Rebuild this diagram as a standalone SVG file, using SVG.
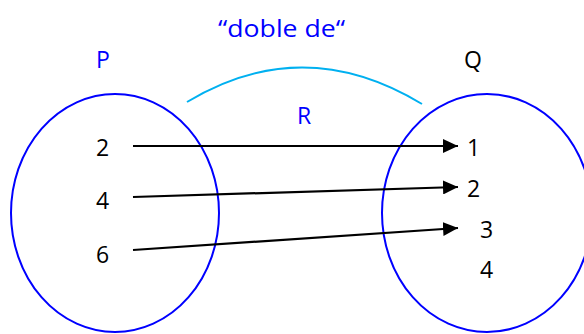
<svg xmlns="http://www.w3.org/2000/svg" width="584" height="334" viewBox="0 0 584 334">
<style>
.set{fill:none;stroke:#0000ff;stroke-width:2}
.num{font-family:"Open Sans","Liberation Sans",sans-serif;font-size:23px;fill:#000}
.lbl{font-family:"Open Sans","Liberation Sans",sans-serif;font-size:23px}
.conn{stroke:#000;stroke-width:2.2;fill:none;marker-end:url(#ah)}
</style>
<defs>
<marker id="ah" markerWidth="16" markerHeight="14" refX="15" refY="7" orient="auto" markerUnits="userSpaceOnUse">
<path d="M0,0 L15,7 L0,14 Z" fill="#000"/>
</marker>
</defs>
<rect width="584" height="334" fill="#fff"/>
<g id="labels">
<text class="lbl" x="218" y="37" fill="#0000ff" textLength="127" lengthAdjust="spacingAndGlyphs">“doble de“</text>
<text class="lbl" x="96" y="68" fill="#0000ff">P</text>
<text class="lbl" x="464" y="68" fill="#000">Q</text>
<text class="lbl" x="297" y="124" fill="#0000ff">R</text>
</g>
<g id="relation-arc">
<path d="M187,102 Q303,32 422,104" fill="none" stroke="#00b0f0" stroke-width="2"/>
</g>
<g id="set-P">
<ellipse class="set" cx="115" cy="213" rx="104" ry="119"/>
<text class="num" x="96" y="156">2</text>
<text class="num" x="96" y="209">4</text>
<text class="num" x="96" y="263">6</text>
</g>
<g id="set-Q">
<ellipse class="set" cx="487" cy="213" rx="105" ry="119"/>
<text class="num" x="467" y="156">1</text>
<text class="num" x="467" y="197">2</text>
<text class="num" x="480" y="238">3</text>
<text class="num" x="480" y="278">4</text>
</g>
<g id="connectors">
<line class="conn" x1="133" y1="146" x2="458" y2="146"/>
<line class="conn" x1="133" y1="197" x2="458" y2="187"/>
<line class="conn" x1="133" y1="250" x2="458" y2="228"/>
</g>
</svg>
